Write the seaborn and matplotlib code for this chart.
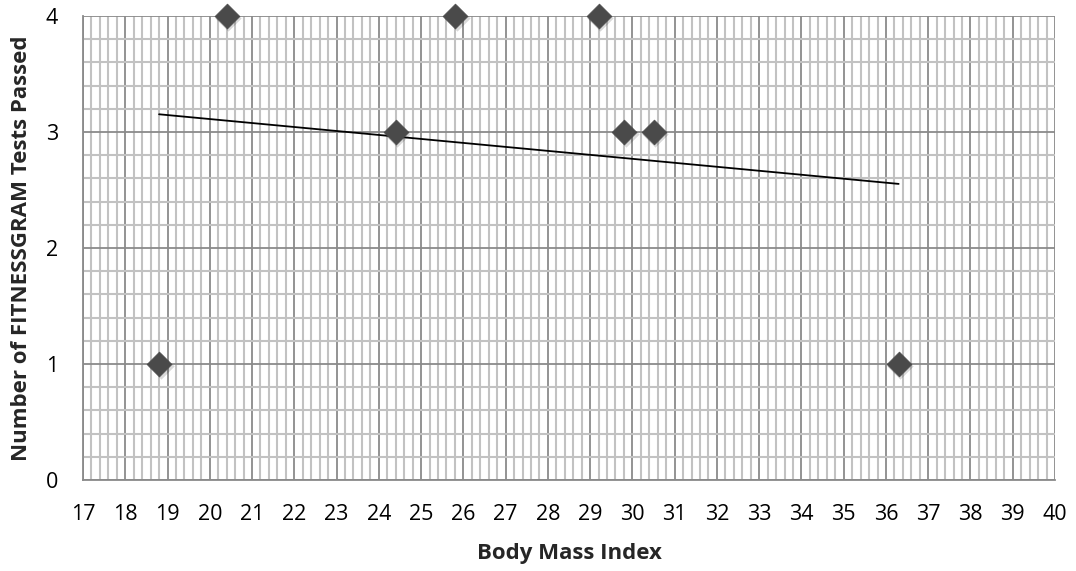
import matplotlib
matplotlib.use("Agg")
import matplotlib.pyplot as plt
from matplotlib.ticker import MultipleLocator
import pandas as pd
import seaborn as sns

# ----------------------------------------------------------------
# data
# ----------------------------------------------------------------
bmi = [18.8, 20.4, 24.4, 25.8, 29.2, 29.8, 30.5, 36.3]
tests_passed = [1, 4, 3, 4, 4, 3, 3, 1]
x_ticks = list(range(17, 41))
y_ticks = [0, 1, 2, 3, 4]

df = pd.DataFrame({"bmi": bmi, "passed": tests_passed})

MAJOR = "#8a8a8a"
MINOR = "#c2c2c2"
MARKER = "#4a4a4a"

sns.set_theme(style="white")
plt.rcParams["font.family"] = ["Open Sans", "DejaVu Sans"]

fig = plt.figure(figsize=(10.76, 5.71), dpi=100)
ax = fig.add_axes([83 / 1076, 1 - 480 / 571, (1055 - 83) / 1076, (480 - 16) / 571])

ax.set_xlim(17, 40)
ax.set_ylim(0, 4)
ax.set_xticks(x_ticks)
ax.set_yticks(y_ticks)
ax.xaxis.set_minor_locator(MultipleLocator(0.2))
ax.yaxis.set_minor_locator(MultipleLocator(0.2))

ax.grid(which="minor", color=MINOR, linewidth=1.5)
ax.grid(which="major", color=MAJOR, linewidth=1.3)
ax.set_axisbelow(True)

# linear trend line over the data range
sns.regplot(data=df, x="bmi", y="passed", scatter=False, ci=None, truncate=True,
            line_kws={"color": "black", "linewidth": 1.3}, ax=ax)

# soft shadow then diamonds
ax.scatter([v + 0.04 for v in bmi], [v - 0.02 for v in tests_passed], marker="D", s=180,
           color="#000000", alpha=0.15, linewidths=0, clip_on=False, zorder=3)
sns.scatterplot(data=df, x="bmi", y="passed", marker="D", s=160, color=MARKER,
                edgecolor=MARKER, linewidth=0.5, ax=ax, zorder=4, clip_on=False)

for side in ["top", "right"]:
    ax.spines[side].set_visible(False)
for side in ["left", "bottom"]:
    ax.spines[side].set_color(MAJOR)
    ax.spines[side].set_linewidth(1.3)

ax.tick_params(axis="both", which="major", length=8, width=1.3, color=MAJOR,
               labelsize=15.5, labelcolor="black", direction="out")
ax.tick_params(axis="x", pad=9)
ax.tick_params(axis="y", pad=10)
ax.tick_params(axis="both", which="minor", length=0)

ax.set_xlabel("Body Mass Index", fontsize=16, fontweight="bold", labelpad=13)
ax.set_ylabel("Number of FITNESSGRAM Tests Passed", fontsize=16, fontweight="bold", labelpad=10)

fig.savefig("out.png", dpi=100, facecolor="white")
